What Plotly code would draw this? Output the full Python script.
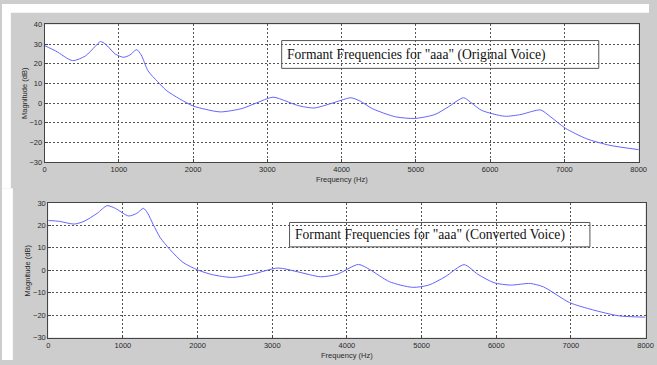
import plotly.graph_objects as go

W, H = 657, 365

# ---- data ----
freq_orig = [0, 150, 376, 550, 680, 752, 820, 950, 1062, 1150, 1239, 1300, 1394, 1520, 1637, 1814,
             2000, 2168, 2367, 2655, 2850, 3075, 3250, 3407, 3628, 3850, 4000, 4124, 4250, 4412,
             4726, 4991, 5257, 5434, 5642, 5750, 5885, 6195, 6416, 6560, 6681, 6814, 7013,
             7301, 7611, 8000]
mag_orig = [29.2, 26.5, 21.6, 24.0, 28.8, 31.3, 30.0, 25.0, 23.3, 24.5, 27.2, 24.5, 16.3, 11.0, 6.5, 2.2,
            -1.5, -3.2, -4.5, -2.8, 0.0, 3.0, 1.0, -1.2, -2.5, -0.3, 1.5, 2.7, 1.0, -2.8,
            -7.0, -7.8, -5.8, -2.0, 2.7, 0.0, -3.7, -6.7, -5.8, -4.3, -3.5, -7.0, -12.8,
            -18.2, -21.5, -23.7]

freq_conv = [0, 150, 345, 478, 655, 788, 898, 1075, 1186, 1274, 1330, 1407, 1500, 1628, 1805, 2004,
             2204, 2465, 2728, 3079, 3342, 3649, 3868, 4154, 4307, 4570, 4877, 5096, 5316,
             5570, 5754, 5974, 6193, 6456, 6632, 6982, 7289, 7640, 7991]
mag_conv = [22.2, 21.8, 20.6, 21.8, 25.4, 28.8, 27.6, 24.2, 25.4, 27.6, 25.5, 20.3, 14.5, 9.3, 3.5, 0.1,
            -2.0, -3.2, -1.8, 1.0, -0.7, -2.9, -1.8, 2.6, 0.3, -5.1, -7.6, -6.6, -2.9,
            2.5, -1.8, -5.6, -6.6, -5.9, -7.4, -14.4, -17.6, -20.3, -20.9]

x_ticks = [0, 1000, 2000, 3000, 4000, 5000, 6000, 7000, 8000]
y_ticks_top = [-30, -20, -10, 0, 10, 20, 30, 40]
y_ticks_bot = [-30, -20, -10, 0, 10, 20, 30]

title_top = 'Formant Frequencies for "aaa" (Original Voice)'
title_bot = 'Formant Frequencies for "aaa" (Converted Voice)'


def px(x):
    return x / W


def py(y):
    return 1 - y / H


# plot-area pixel boxes (left, right, top, bottom)
TOP = (43.3, 646.5, 21, 162)
BOT = (47, 653.5, 204, 342)

line_col = "rgb(100,100,255)"
fig = go.Figure()
fig.add_trace(go.Scatter(x=freq_orig, y=mag_orig, mode="lines", xaxis="x", yaxis="y",
                         line=dict(color=line_col, width=1, shape="spline", smoothing=0.7),
                         showlegend=False))
fig.add_trace(go.Scatter(x=freq_conv, y=mag_conv, mode="lines", xaxis="x2", yaxis="y2",
                         line=dict(color=line_col, width=1, shape="spline", smoothing=0.7),
                         showlegend=False))

tickfont = dict(family="Liberation Sans", size=7.5, color="#2a2a2a")
ax_common = dict(showline=True, mirror=True, linecolor="#444", linewidth=1,
                 showgrid=True, gridcolor="#555", griddash="2px,2px", gridwidth=1,
                 zeroline=False, ticks="inside", ticklen=3, tickcolor="#444",
                 tickfont=tickfont)

fig.update_layout(
    width=W, height=H,
    margin=dict(l=0, r=0, t=0, b=0),
    paper_bgcolor="#cdcdcd", plot_bgcolor="white",
    xaxis=dict(domain=[px(TOP[0]), px(TOP[1])], range=[0, 8000], tickvals=x_ticks,
               anchor="y", **ax_common),
    yaxis=dict(domain=[py(TOP[3]), py(TOP[2])], range=[-30, 40], tickvals=y_ticks_top,
               anchor="x", **ax_common),
    xaxis2=dict(domain=[px(BOT[0]), px(BOT[1])], range=[0, 8000], tickvals=x_ticks,
                anchor="y2", **ax_common),
    yaxis2=dict(domain=[py(BOT[3]), py(BOT[2])], range=[-30, 30], tickvals=y_ticks_bot,
                anchor="x2", **ax_common),
)

shapes = [
    # white page margins around the grey figure windows
    dict(type="rect", xref="paper", yref="paper", x0=0, x1=1, y0=py(9), y1=1,
         fillcolor="white", line=dict(width=0), layer="below"),
    dict(type="rect", xref="paper", yref="paper", x0=0, x1=px(9), y0=py(189), y1=1,
         fillcolor="white", line=dict(width=0), layer="below"),
    dict(type="rect", xref="paper", yref="paper", x0=0, x1=px(11), y0=0, y1=py(189),
         fillcolor="white", line=dict(width=0), layer="below"),
    # text boxes
    dict(type="rect", xref="paper", yref="paper", x0=px(284), x1=px(606), y0=py(66), y1=py(37.5),
         fillcolor="rgba(0,0,0,0)", line=dict(color="#555", width=1)),
    dict(type="rect", xref="paper", yref="paper", x0=px(292), x1=px(597), y0=py(249), y1=py(224),
         fillcolor="rgba(0,0,0,0)", line=dict(color="#555", width=1)),
]
fig.update_layout(shapes=shapes)

serif = dict(family="Liberation Serif", size=13.6, color="#111")
small = dict(family="Liberation Sans", size=7.5, color="#2a2a2a")
annotations = [
    dict(text=title_top, xref="paper", yref="paper", x=px(287), y=py(52), xanchor="left",
         yanchor="middle", showarrow=False, font=serif),
    dict(text=title_bot, xref="paper", yref="paper", x=px(295), y=py(236.5), xanchor="left",
         yanchor="middle", showarrow=False, font=serif),
    dict(text="Frequency (Hz)", xref="paper", yref="paper", x=px(345), y=py(179.5),
         xanchor="center", yanchor="middle", showarrow=False, font=small),
    dict(text="Frequency (Hz)", xref="paper", yref="paper", x=px(350), y=py(360.5),
         xanchor="center", yanchor="middle", showarrow=False, font=small),
    dict(text="Magnitude (dB)", xref="paper", yref="paper", x=px(23), y=py(91.5), textangle=-90,
         xanchor="center", yanchor="middle", showarrow=False, font=small),
    dict(text="Magnitude (dB)", xref="paper", yref="paper", x=px(25.5), y=py(273), textangle=-90,
         xanchor="center", yanchor="middle", showarrow=False, font=small),
]
fig.update_layout(annotations=annotations)

fig.write_html("out.html")
